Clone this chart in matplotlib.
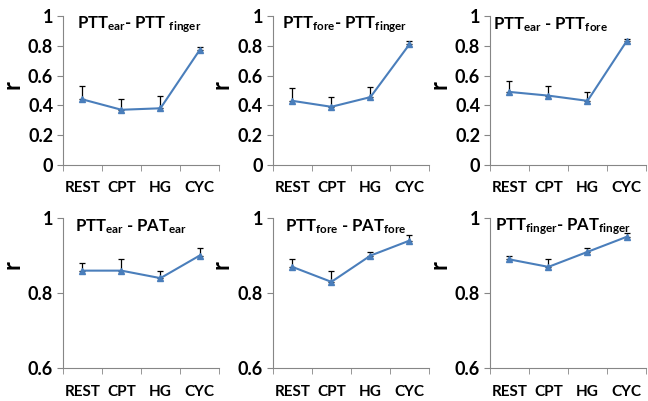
import matplotlib
matplotlib.use("Agg")
import matplotlib.pyplot as plt
from matplotlib.ticker import FuncFormatter, FixedLocator

plt.rcParams['font.family'] = ['Lato', 'DejaVu Sans']
plt.rcParams['font.weight'] = 'bold'
plt.rcParams['mathtext.fontset'] = 'custom'
plt.rcParams['mathtext.rm'] = 'Lato:bold'
plt.rcParams['mathtext.bf'] = 'Lato:bold'
plt.rcParams['mathtext.it'] = 'Lato:bold'

# conditions
conditions = ["REST", "CPT", "HG", "CYC"]

# mean r and upper error for each panel
ear_finger = [0.44, 0.37, 0.38, 0.77]
ear_finger_err = [0.09, 0.075, 0.08, 0.025]
fore_finger = [0.43, 0.39, 0.455, 0.81]
fore_finger_err = [0.085, 0.065, 0.065, 0.025]
ear_fore = [0.49, 0.465, 0.43, 0.83]
ear_fore_err = [0.075, 0.065, 0.06, 0.015]
ptt_pat_ear = [0.86, 0.86, 0.84, 0.90]
ptt_pat_ear_err = [0.02, 0.03, 0.02, 0.02]
ptt_pat_fore = [0.87, 0.83, 0.90, 0.94]
ptt_pat_fore_err = [0.02, 0.03, 0.01, 0.015]
ptt_pat_finger = [0.89, 0.87, 0.91, 0.95]
ptt_pat_finger_err = [0.01, 0.02, 0.01, 0.01]

titles = [r"PTT$_{\rm ear}$- PTT $_{\rm finger}$",
          r"PTT$_{\rm fore}$- PTT$_{\rm finger}$",
          r"PTT$_{\rm ear}$ - PTT$_{\rm fore}$",
          r"PTT$_{\rm ear}$ - PAT$_{\rm ear}$",
          r"PTT$_{\rm fore}$ - PAT$_{\rm fore}$",
          r"PTT$_{\rm finger}$- PAT$_{\rm finger}$"]
series = [ear_finger, fore_finger, ear_fore, ptt_pat_ear, ptt_pat_fore, ptt_pat_finger]
errors = [ear_finger_err, fore_finger_err, ear_fore_err,
          ptt_pat_ear_err, ptt_pat_fore_err, ptt_pat_finger_err]

fig = plt.figure(figsize=(6.48, 4.01), dpi=100)
lefts = [0.097, 0.421, 0.756]
title_x = [0.09, 0.06, 0.02, 0.08, 0.08, 0.03]
line_color = "#4A7EBB"
spine_color = "#868686"

for i in range(6):
    row, col = divmod(i, 3)
    if row == 0:
        ax = fig.add_axes([lefts[col], 0.589, 0.241, 0.371])
        ylim = (0, 1)
        yticks = [0, 0.2, 0.4, 0.6, 0.8, 1.0]
        label_y = 0.54
    else:
        ax = fig.add_axes([lefts[col], 0.082, 0.241, 0.374])
        ylim = (0.6, 1)
        yticks = [0.6, 0.8, 1.0]
        label_y = 0.69

    x = list(range(len(conditions)))
    ax.errorbar(x, series[i], yerr=[[0] * 4, errors[i]], color=line_color,
                ecolor="black", elinewidth=0.9, capsize=2, capthick=0.9,
                marker="^", markersize=4, linewidth=1.5)
    ax.set_xlim(-0.5, 3.5)
    ax.set_ylim(*ylim)
    ax.set_yticks(yticks)
    ax.yaxis.set_major_formatter(FuncFormatter(lambda v, p: "%g" % round(v, 2)))
    ax.set_xticks(x)
    ax.set_xticklabels(conditions)
    ax.xaxis.set_minor_locator(FixedLocator([-0.5, 0.5, 1.5, 2.5, 3.5]))
    ax.tick_params(axis="x", which="major", length=0, pad=12, labelsize=11)
    ax.tick_params(axis="x", which="minor", length=4, color=spine_color, direction="out")
    ax.tick_params(axis="y", length=4, color=spine_color, labelsize=13, pad=3)
    for s in ["top", "right"]:
        ax.spines[s].set_visible(False)
    for s in ["left", "bottom"]:
        ax.spines[s].set_color(spine_color)
    ax.set_ylabel("r", fontsize=17, fontweight="bold")
    ax.yaxis.set_label_coords(-0.255, label_y)
    ax.text(title_x[i], 0.94, titles[i], transform=ax.transAxes,
            fontsize=12, fontweight="bold", va="center", ha="left")

fig.savefig("out.png", dpi=100)
